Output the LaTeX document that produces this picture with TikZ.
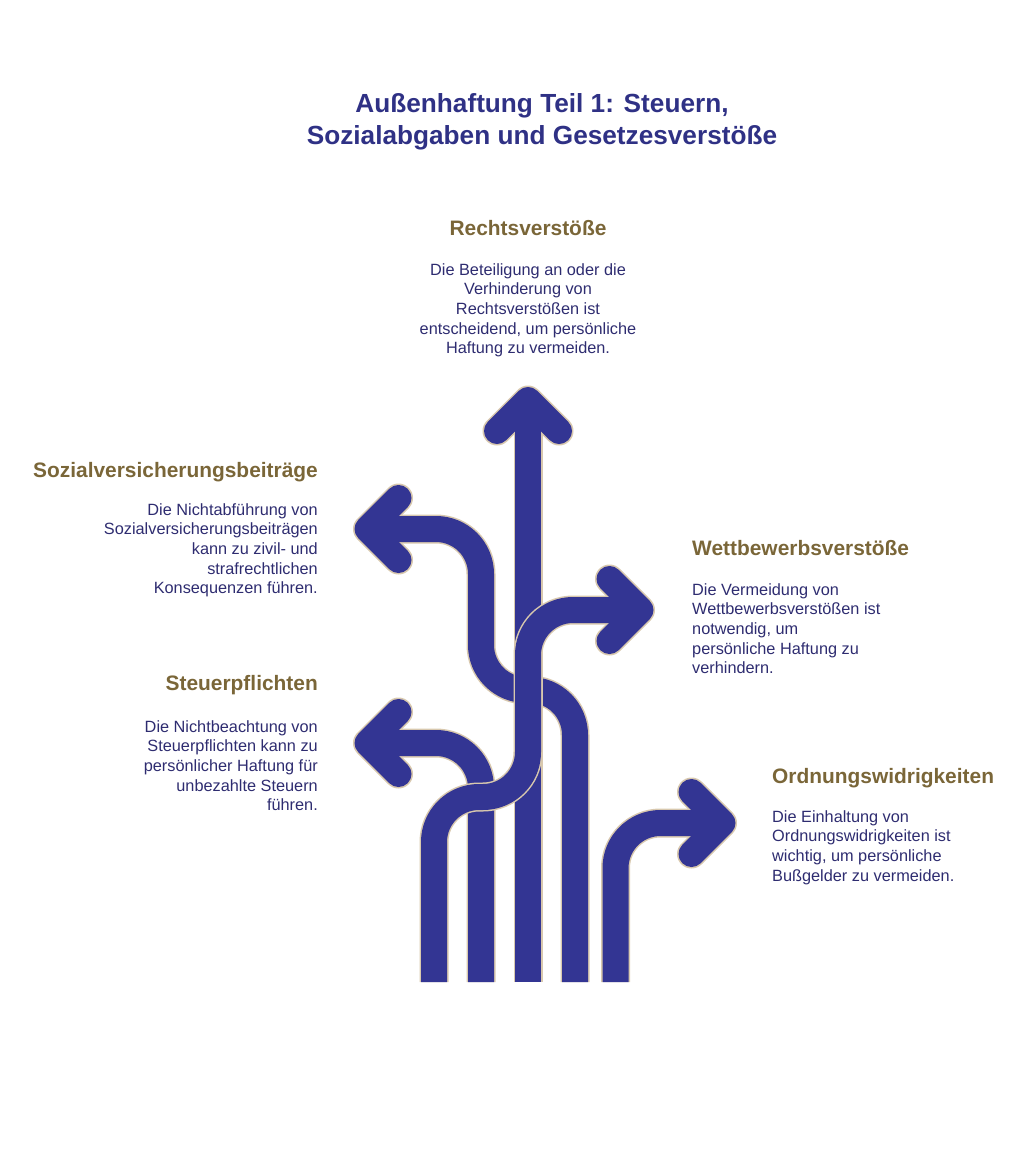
\documentclass[tikz,border=0pt]{standalone}
\usepackage{fontspec}
\setmainfont{Liberation Sans}
\usetikzlibrary{positioning}
\definecolor{titleblue}{HTML}{2F3185}
\definecolor{headbrown}{HTML}{7A6638}
\definecolor{bodyblue}{HTML}{2E2C70}
\definecolor{bandblue}{HTML}{333593}
\definecolor{rimbeige}{HTML}{D8C8AE}
\tikzset{
rim/.style= {draw=rimbeige, line width=29pt, line join=round},
band/.style= {draw=bandblue, line width=26pt, line join=round},
headline/.style= {inner sep=0pt, text=headbrown, font=\bfseries\fontsize{20.9}{25}\selectfont},
bodytext/.style= {inner sep=0pt, text=bodyblue, font=\fontsize{16.3}{19.7}\selectfont},
titletext/.style= {inner sep=0pt, text=titleblue, align=center, font=\bfseries\fontsize{26.2}{32}\selectfont}
}
% one strand: #1 stem, #2 chevron
\newcommand{\strand}[2]{
  \draw[rim,rounded corners=45pt] #1; \draw[rim,line cap=round] #2;
  \draw[band,rounded corners=45pt] #1; \draw[band,line cap=round] #2;
}

\begin{document}
\begin{tikzpicture}[x=1pt,y=-1pt]
\useasboundingbox (0,0) rectangle (1024,1158);

\node[titletext,anchor=north] (title) at (542,93) {Außenhaftung Teil 1: Steuern,\\Sozialabgaben und Gesetzesverstöße};

% strands, lowest first
\strand{(575,982) -- (575,690) -- (481,690) -- (481,529) -- (378,529)}{(398.5,498) -- (367.5,529) -- (398.5,560)}
\strand{(528,982) -- (528,410)}{(497,431) -- (528,400) -- (559,431)}
\strand{(481,982) -- (481,743) -- (378,743)}{(398.5,712) -- (367.5,743) -- (398.5,774)}
\strand{(434,982) -- (434,797) -- (528,797) -- (528,610) -- (630,610)}{(609.5,579) -- (640.5,610) -- (609.5,641)}
\strand{(615.5,982) -- (615.5,823) -- (712,823)}{(691.5,792) -- (722.5,823) -- (691.5,854)}

% labels
\node[headline,anchor=north] (recht) at (528,220) {Rechtsverstöße};
\node[bodytext,align=center,anchor=north] (rechttxt) at (528,263) {Die Beteiligung an oder die\\Verhinderung von\\Rechtsverstößen ist\\entscheidend, um persönliche\\Haftung zu vermeiden.};

\node[headline,anchor=north east] (sozial) at (318,462) {Sozialversicherungsbeiträge};
\node[bodytext,align=right,anchor=north east] (sozialtxt) at (318,503) {Die Nichtabführung von\\Sozialversicherungsbeiträgen\\kann zu zivil- und\\strafrechtlichen\\Konsequenzen führen.};

\node[headline,anchor=north west] (wettb) at (692,540) {Wettbewerbsverstöße};
\node[bodytext,align=left,anchor=north west] (wettbtxt) at (692,583) {Die Vermeidung von\\Wettbewerbsverstößen ist\\notwendig, um\\persönliche Haftung zu\\verhindern.};

\node[headline,anchor=north east] (steuer) at (318,675) {Steuerpflichten};
\node[bodytext,align=right,anchor=north east] (steuertxt) at (318,720) {Die Nichtbeachtung von\\Steuerpflichten kann zu\\persönlicher Haftung für\\unbezahlte Steuern\\führen.};

\node[headline,anchor=north west] (ordnung) at (772,768) {Ordnungswidrigkeiten};
\node[bodytext,align=left,anchor=north west] (ordnungtxt) at (772,810) {Die Einhaltung von\\Ordnungswidrigkeiten ist\\wichtig, um persönliche\\Bußgelder zu vermeiden.};
\end{tikzpicture}
\end{document}
